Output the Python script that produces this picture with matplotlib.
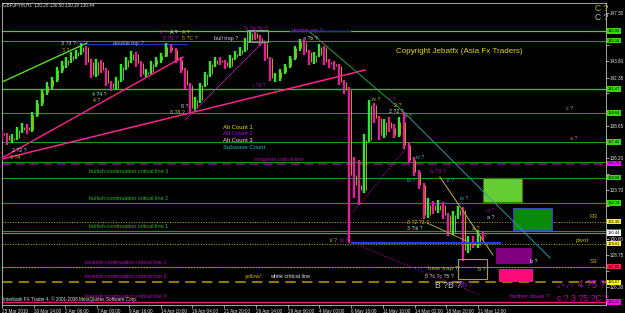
import numpy as np
import matplotlib
matplotlib.use("Agg")
import matplotlib.pyplot as plt
from matplotlib.patches import Rectangle
import matplotlib.transforms as mtransforms

plt.rcParams['font.family'] = ['Liberation Sans', 'DejaVu Sans']

# ---- data (GBPJPY H1, each entry ~10 hours) ----
closes = [137.95, 137.57, 137.72, 138.33, 138.56, 138.33, 139.48, 140.40, 141.25, 141.71,
          142.17, 142.93, 143.32, 143.70, 144.01, 144.31, 144.70, 143.55, 142.55, 143.55,
          142.93, 141.94, 141.55, 142.17, 143.16, 143.70, 144.16, 143.47, 142.63, 142.78,
          143.39, 143.70, 144.01, 144.70, 144.46, 143.70, 142.93, 141.78, 140.02, 140.63,
          141.78, 142.63, 143.39, 143.70, 143.55, 143.24, 143.93, 144.16, 144.46, 145.23,
          145.77, 145.38, 145.00, 143.85, 142.32, 142.32, 142.78, 143.24, 143.85, 144.62,
          145.08, 144.31, 143.55, 144.08, 144.70, 143.55, 143.39, 143.24, 142.01, 141.40,
          134.89, 134.12, 133.74, 137.57, 140.25, 139.25, 137.95, 138.95, 138.49, 137.95,
          138.95, 137.19, 136.04, 135.12, 134.12, 131.82, 132.59, 132.20, 132.59, 131.82,
          130.52, 131.82, 132.20, 129.14, 129.67, 129.52, 130.29, 130.21]
highs = [138.3, 138.1, 138.0, 138.6, 138.9, 138.8, 139.7, 140.6, 141.5, 142.0,
         142.4, 143.2, 143.6, 143.9, 144.3, 144.5, 145.0, 144.8, 143.8, 143.8,
         143.7, 143.1, 142.1, 142.4, 143.4, 143.9, 144.4, 144.3, 143.6, 143.0,
         143.6, 143.9, 144.2, 145.0, 144.9, 144.6, 143.9, 143.1, 141.9, 140.9,
         141.9, 142.8, 143.6, 143.9, 143.9, 143.7, 144.1, 144.4, 144.7, 145.4,
         146.0, 146.0, 145.6, 145.1, 143.9, 142.7, 143.0, 143.4, 144.0, 144.8,
         145.3, 145.2, 144.5, 144.3, 144.9, 144.8, 143.8, 143.6, 143.4, 142.2,
         141.6, 136.3, 136.0, 138.0, 140.6, 140.4, 139.4, 139.2, 139.3, 138.8,
         139.3, 139.7, 137.4, 136.3, 135.3, 134.3, 133.1, 132.9, 133.0, 132.8,
         132.0, 132.1, 132.5, 132.4, 130.2, 130.2, 130.7, 130.6]
lows = [137.6, 137.2, 137.3, 137.6, 138.1, 138.0, 138.2, 139.3, 140.2, 141.0,
        141.4, 142.0, 142.7, 143.1, 143.5, 143.8, 144.1, 143.3, 142.3, 142.4,
        142.7, 141.7, 141.3, 141.4, 142.0, 142.9, 143.5, 143.2, 142.4, 142.4,
        142.6, 143.2, 143.5, 143.9, 144.2, 143.5, 142.7, 141.5, 139.7, 139.8,
        140.4, 141.6, 142.4, 143.2, 143.3, 143.0, 143.1, 143.7, 144.0, 144.3,
        145.0, 145.2, 144.8, 143.6, 142.1, 142.0, 142.1, 142.6, 143.1, 143.7,
        144.4, 144.1, 143.3, 143.4, 143.9, 143.3, 143.1, 142.9, 141.8, 141.1,
        129.7, 133.1, 132.6, 133.5, 137.4, 138.9, 137.6, 137.7, 138.2, 137.7,
        137.8, 136.9, 135.8, 134.8, 133.8, 131.5, 131.6, 131.9, 132.0, 131.5,
        130.2, 130.3, 131.5, 128.3, 128.9, 129.3, 129.3, 129.9]
first_open = 138.1

time_labels = ['25 Mar 2010', '30 Mar 14:00', '2 Apr 06:00', '7 Apr 00:00', '9 Apr 16:00',
               '14 Apr 10:00', '19 Apr 04:00', '21 Apr 20:00', '26 Apr 14:00', '29 Apr 06:00',
               '4 May 00:00', '6 May 16:00', '11 May 10:00', '14 May 02:00', '18 May 20:00',
               '21 May 12:00']
price_ticks = [147.30, 146.05, 144.85, 143.60, 142.35, 141.15, 139.90, 138.65, 137.40,
               136.20, 134.95, 133.70, 132.50, 131.25, 130.00, 128.75, 127.55, 126.30]

# level, colour of price tag
level_tags = [(145.92, '#33dd00'), (145.18, '#33dd00'), (141.47, '#33dd00'),
              (139.64, '#33dd00'), (137.42, '#33dd00'), (135.78, '#ff00ff'),
              (134.68, '#33dd00'), (132.74, '#33dd00'), (131.30, '#ffff00'),
              (130.58, '#33dd00'), (130.44, '#ffffff'), (129.61, '#ffff00'),
              (127.85, '#ff2050'), (126.67, '#ffff00'), (125.15, '#ff00ff')]

BG = 'black'
fig = plt.figure(figsize=(6.25, 3.13), dpi=100, facecolor=BG)
ax = fig.add_axes([2 / 625, 8 / 313, 604 / 625, 302 / 313])
ax.set_facecolor(BG)
ax.set_xlim(0, 1218)
ax.set_ylim(124.92, 148.07)

# ---- horizontal levels ----
for lvl, c, lw in [(145.92, '#3fdc10', 0.9), (145.18, '#1fa01f', 0.8), (141.47, '#30c010', 1.0),
                   (139.64, '#1a9a1a', 0.8), (137.42, '#1a9a1a', 0.8), (135.92, '#1a9a1a', 0.8),
                   (134.68, '#1a9a1a', 0.8), (132.74, '#1a9a1a', 0.8), (130.58, '#1a9a1a', 0.8)]:
    ax.axhline(lvl, color=c, lw=lw, zorder=1)
ax.axhline(135.76, color='#9a00aa', lw=1.1, dashes=(6, 3), zorder=1)
ax.axhline(131.30, color='#c8b400', lw=0.7, ls=':', zorder=1)
ax.axhline(130.44, color='#808080', lw=0.8, zorder=1)
ax.axhline(129.61, color='#c8b400', lw=0.7, ls=':', zorder=1)
ax.axhline(127.85, color='#ff2050', lw=0.6, zorder=1)
ax.axhline(127.85, color='#ff9020', lw=0.8, ls=':', zorder=1)
ax.axhline(126.67, color='#8a7a00', lw=1.5, dashes=(5, 3), zorder=1)
ax.axhline(125.15, color='#ff1080', lw=1.0, zorder=1)

# ---- price bars ----
hours = np.arange(len(closes)) * 10
opens = [first_open] + closes[:-1]
bar_cols = ['#2ee82e' if c >= o else '#e0209a' for o, c in zip(opens, closes)]
ax.vlines(hours, lows, highs, colors=bar_cols, lw=1.7, zorder=3)
ax.vlines(hours + 3.5, np.minimum(opens, closes), np.maximum(opens, closes),
          colors='#c8a000', lw=0.7, zorder=3)

# ---- trendlines ----
ax.plot([0, 171], [142.01, 145.00], color='#55dd22', lw=1.0, zorder=4)
ax.plot([0, 365], [136.19, 143.93], color='#ff2090', lw=1.0, zorder=4)
ax.plot([0, 732], [136.11, 142.93], color='#ff2090', lw=1.1, zorder=4)
ax.plot([369, 530], [139.1, 145.23], color='#b020b0', lw=0.6, zorder=4)
ax.plot([621, 812], [145.84, 139.64], color='#20a040', lw=0.7, zorder=4)
ax.plot([812, 1105], [139.64, 128.53], color='#20a0a0', lw=0.7, zorder=4)
ax.plot([883, 990], [134.73, 128.76], color='#b0a040', lw=0.8, zorder=4)
ax.plot([857, 954], [131.21, 129.52], color='#b0a040', lw=0.7, zorder=4)
ax.plot([712, 964], [129.6, 125.69], color='#b000b0', lw=0.8, ls=':', zorder=4)
ax.plot([708, 812], [132.05, 136.8], color='#b000b0', lw=0.8, ls=':', zorder=4)
ax.plot([706, 1004], [129.67, 129.67], color='#2040ff', lw=1.4, zorder=4)
ax.plot([161, 373], [144.93, 144.93], color='#2828c0', lw=1.0, zorder=2)
ax.plot([581, 702], [145.95, 145.95], color='#2828c0', lw=1.0, zorder=2)

# ---- boxes ----
boxes = [((970, 132.82), 78, 1.84, '#66cc33', '#2a7a10'),
         ((1030, 130.67), 79, 1.69, '#0a8a0a', '#4040c0'),
         ((996, 128.14), 70, 1.15, '#800080', '#800080'),
         ((1002, 126.76), 67, 0.92, '#ff0a78', '#ff0a78')]
for xy, w, h, fc, ec in boxes:
    ax.add_patch(Rectangle(xy, w, h, facecolor=fc, edgecolor=ec, lw=0.8, zorder=2))
ax.add_patch(Rectangle((919, 126.92), 59, 1.53, fill=False, edgecolor='#b0a030', lw=0.8, zorder=5))
ax.add_patch(Rectangle((494, 145.08), 42, 0.92, fill=False, edgecolor='#909090', lw=0.8, zorder=5))

# ---- texts ----
def txt(x, y, s, c, size=3.8, **kw):
    ax.text(x, y, s, color=c, fontsize=size, va='center', ha='left', zorder=6, **kw)

txt(2, 147.95, 'GBPJPYm,H1  130.28 130.50 130.19 130.44', '#e0e0e0', 3.3)
txt(794, 144.39, 'Copyright Jebatfx (Asia Fx Traders)', '#e8d800', 5.8)
txt(446, 138.56, 'Alt Count 1', '#e0e000', 4.3)
txt(446, 138.03, 'Alt Count 2', '#b000e0', 4.3)
txt(446, 137.52, 'Alt Count 3', '#e0e0e0', 4.3)
txt(446, 137.00, 'Subwave Count', '#00c0c0', 4.3)
txt(510, 136.04, 'magenta critical line', '#b000b0', 4.0)
txt(175, 135.12, 'bullish continuation critical line 3', '#20c020', 4.0)
txt(175, 133.05, 'bullish continuation critical line 2', '#20c020', 4.0)
txt(175, 130.90, 'bullish continuation critical line 1', '#20c020', 4.0)
txt(167, 128.14, 'bearish continuation critical line 1', '#c000c0', 4.0)
txt(167, 127.07, 'bearish continuation critical line 2', '#c000c0', 4.0)
txt(167, 125.58, 'bearish continuation critical line 3', '#c000c0', 4.0)
txt(490, 127.07, 'yellow/', '#c8b400', 4.0)
txt(540, 127.07, 'white critical line', '#e0e0e0', 4.0)
txt(2, 125.33, 'Interbank FX Trader 4, \u00a9 2001-2008 MetaQuotes Software Corp.', '#e0e0e0', 3.3)
txt(1185, 131.67, 'R3', '#c8b400', 4.5)
txt(1157, 129.90, 'pivot', '#c8b400', 4.5)
txt(1185, 128.22, 'S3', '#c8b400', 4.5)
txt(224, 144.93, 'double top ?', '#a0a0e0', 4.0)
txt(427, 145.38, 'bull trap ?', '#d0d0d0', 4.0)
txt(585, 146.00, 'double top ?', '#9020c0', 4.0)
txt(859, 127.68, 'bear trap ?', '#c8a800', 4.5)

waves = [('3 ?3 ?', 118, 144.93, '#d0d0d0'), ('3 ?', 150, 144.93, '#b000d0'),
         ('3 ?', 121, 144.46, '#c8a800'), ('2 ?', 318, 145.84, '#b000d0'),
         ('A ?', 339, 145.84, '#e0e0e0'), ('A ?', 363, 145.84, '#d4c000'),
         ('5 ?5 ?', 325, 145.38, '#b000d0'), ('5 ?C ?', 362, 145.38, '#c8a800'),
         ('4 ?4 ?', 181, 141.02, '#d0d0d0'), ('4 ?', 183, 140.56, '#d4c000'),
         ('8 ?', 361, 140.17, '#d0d0d0'), ('8 ?8 ?', 339, 139.64, '#d4c000'),
         ('2 ?2 ?', 20, 136.80, '#d0d0d0'), ('3 ?4', 16, 136.26, '#d4c000'),
         ('b ?a ?b ?', 490, 146.15, '#b000d0'), ('a ?b ?', 607, 145.38, '#d0d0d0'),
         ('i ?ii ?', 506, 141.78, '#b000d0'), ('ii ?', 661, 129.90, '#d4c000'),
         ('iii ?', 681, 129.90, '#b000d0'), ('iv ?', 746, 140.71, '#a0d000'),
         ('v ?', 778, 140.71, '#b000d0'), ('2 ?', 790, 140.25, '#d4c000'),
         ('2 ?2 ?', 780, 139.79, '#d0d0d0'), ('ii ?', 812, 139.35, '#20c0c0'),
         ('iii ?', 816, 134.43, '#20c0c0'), ('iv ?', 835, 136.19, '#20c0c0'),
         ('iv ?3 ?', 863, 135.12, '#b000d0'), ('ii ?', 897, 134.50, '#20c0c0'),
         ('iv ?', 923, 133.12, '#20c0c0'), ('a ?', 978, 131.59, '#d0d0d0'),
         ('a ?', 978, 132.20, '#b000d0'), ('3 ?2 ?3 ?', 816, 131.28, '#d4c000'),
         ('3 ?iii ?', 816, 130.82, '#d0d0d0'), ('a ?', 948, 130.82, '#d4c000'),
         ('b ?', 1065, 128.22, '#e0e0e0'), ('b ?', 960, 127.61, '#d4c000'),
         ('5 ?c ?c ?5 ?', 853, 127.07, '#d0d0d0'), ('c ?', 1137, 140.02, '#b0b0b0'),
         ('a ?', 1145, 137.65, '#b0a000'), ('a ? v ?', 1119, 126.30, '#b000d0')]
for s, x, y, c in waves:
    txt(x, y, s, c)

txt(873, 126.38, 'B ?B ?', '#c8c8c8', 6.2)
txt(921, 126.38, '?b ?', '#b000d0', 5.0)
txt(1161, 126.46, '4 ?5 ?', '#b000d0', 7.0)
txt(1024, 125.54, 'further down ?', '#c000c0', 4.5)
txt(1119, 125.42, 'c ? 3 ?5 ?C ?', '#c000c0', 6.3)
txt(1196, 147.68, 'C ?', '#c8b400', 6.2)
txt(1196, 146.99, 'C ?', '#c0c0c0', 6.2)

# ---- axes styling ----
for sp in ax.spines.values():
    sp.set_color('#c0c0c0')
    sp.set_linewidth(0.6)
ax.yaxis.tick_right()
ax.set_yticks(price_ticks)
# tick labels hidden behind a level tag are left blank, as on the terminal
tag_prices = [p for p, _ in level_tags]
ax.set_yticklabels(['' if min(abs(v - p) for p in tag_prices) < 0.36 else f'{v:.2f}'
                    for v in price_ticks])
ax.set_xticks(np.arange(len(time_labels)) * 64)
ax.set_xticklabels(time_labels)
ax.tick_params(colors='#e0e0e0', labelsize=3.3, length=2, width=0.5, pad=1)
for lab in ax.get_xticklabels():
    lab.set_horizontalalignment('left')

trans = mtransforms.blended_transform_factory(ax.transAxes, ax.transData)
for lvl, c in level_tags:
    ax.text(1.003, lvl, f'{lvl:.2f}', transform=trans, fontsize=3.0, color='black',
            va='center', ha='left', zorder=7, clip_on=False,
            bbox=dict(boxstyle='square,pad=0.15', facecolor=c, edgecolor='none'))

fig.savefig('out.png', dpi=100, facecolor=BG)
